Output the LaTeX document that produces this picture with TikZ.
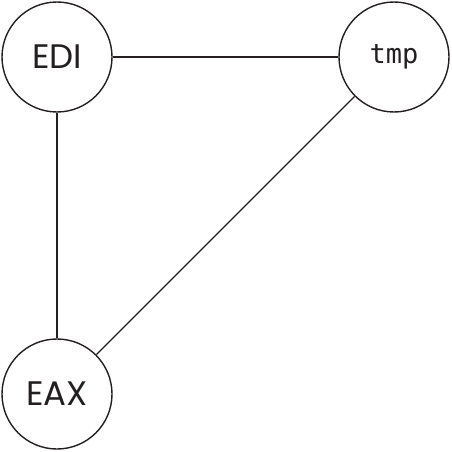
\documentclass[tikz,border=0pt]{standalone}
\usepackage{fontspec}
\setmainfont{Poppins}
\setmonofont{DejaVu Sans Mono}
\definecolor{regline}{RGB}{35,31,32}

\begin{document}
\begin{tikzpicture}[x=1pt,y=-1pt,line width=1.4pt,draw=regline] %[>=stealth']
          \tikzstyle{every node}=[font=\fontsize{34}{40}\selectfont,text=regline]
          \tikzstyle{reg}=[circle,draw=regline,minimum size=110pt,inner sep=0pt]
          \useasboundingbox (0,0) rectangle (451,452);
            \node[reg] (edi) at (57, 57) {EDI};
            \node[reg,font=\ttfamily\fontsize{27}{30}\selectfont] (tmp) at (394, 57) {tmp};
            \node[reg] (eax) at (57, 394) {EAX};

            \draw (edi) edge (tmp);
            \draw (edi) edge (eax);
            \draw (tmp) edge (eax);
        \end{tikzpicture}
\end{document}
